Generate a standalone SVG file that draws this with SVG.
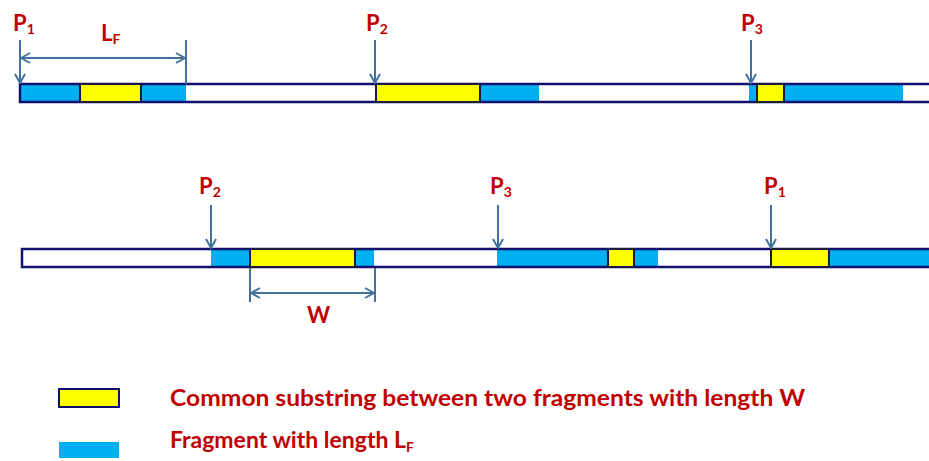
<svg xmlns="http://www.w3.org/2000/svg" width="929" height="461" viewBox="0 0 929 461">
<defs>
<style>
.lbl{font-family:Lato,"Liberation Sans",sans-serif;font-weight:bold;fill:#c00000;}
.p{font-size:22px;}
.sub{font-size:14px;}
.leg{font-size:22px;}
.strand{fill:none;stroke:#10106e;stroke-width:2.5;}
.blue{fill:#00b0f0;}
.yel{fill:#ffff00;stroke:#1a1a40;stroke-width:2;}
.arr{stroke:#41719c;stroke-width:2;fill:none;}
</style>
<marker id="ah" viewBox="0 0 12 12" refX="11" refY="6" markerWidth="12" markerHeight="12" markerUnits="userSpaceOnUse" orient="auto-start-reverse">
<polyline points="2,1 11,6 2,11" fill="none" stroke="#41719c" stroke-width="2"/>
</marker>
</defs>
<rect width="929" height="461" fill="#ffffff"/>

<g id="strand1">
<rect x="20" y="84" width="920" height="18" fill="#ffffff"/>
<rect class="blue" x="20" y="84" width="60" height="18"/>
<rect class="blue" x="141" y="84" width="45" height="18"/>
<rect class="blue" x="480" y="84" width="59" height="18"/>
<rect class="blue" x="749" y="84" width="8" height="18"/>
<rect class="blue" x="784" y="84" width="119" height="18"/>
<rect class="strand" x="20" y="84" width="920" height="18"/>
<rect class="yel" x="80" y="84" width="61" height="18"/>
<rect class="yel" x="376" y="84" width="104" height="18"/>
<rect class="yel" x="757" y="84" width="27" height="18"/>
</g>

<g id="strand2">
<rect x="22" y="249" width="920" height="18" fill="#ffffff"/>
<rect class="blue" x="211" y="249" width="39" height="18"/>
<rect class="blue" x="355" y="249" width="19" height="18"/>
<rect class="blue" x="497" y="249" width="111" height="18"/>
<rect class="blue" x="634" y="249" width="24" height="18"/>
<rect class="blue" x="829" y="249" width="110" height="18"/>
<rect class="strand" x="22" y="249" width="920" height="18"/>
<rect class="yel" x="250" y="249" width="105" height="18"/>
<rect class="yel" x="608" y="249" width="26" height="18"/>
<rect class="yel" x="771" y="249" width="58" height="18"/>
</g>

<g id="connectors">
<line class="arr" x1="20" y1="40" x2="20" y2="83" marker-end="url(#ah)"/>
<line class="arr" x1="375" y1="40" x2="375" y2="83" marker-end="url(#ah)"/>
<line class="arr" x1="751" y1="40" x2="751" y2="83" marker-end="url(#ah)"/>
<line class="arr" x1="186" y1="40" x2="186" y2="84"/>
<line class="arr" x1="21" y1="58" x2="185" y2="58" marker-start="url(#ah)" marker-end="url(#ah)"/>
<line class="arr" x1="211" y1="205" x2="211" y2="248" marker-end="url(#ah)"/>
<line class="arr" x1="498" y1="205" x2="498" y2="248" marker-end="url(#ah)"/>
<line class="arr" x1="771" y1="205" x2="771" y2="248" marker-end="url(#ah)"/>
<line class="arr" x1="250" y1="268" x2="250" y2="302"/>
<line class="arr" x1="375" y1="268" x2="375" y2="302"/>
<line class="arr" x1="251" y1="293" x2="374" y2="293" marker-start="url(#ah)" marker-end="url(#ah)"/>
</g>

<g id="labels">
<text class="lbl p" x="13" y="31">P<tspan class="sub" dy="3">1</tspan></text>
<text class="lbl p" x="101" y="41">L<tspan class="sub" dy="3">F</tspan></text>
<text class="lbl p" x="366" y="31">P<tspan class="sub" dy="3">2</tspan></text>
<text class="lbl p" x="741" y="31">P<tspan class="sub" dy="3">3</tspan></text>
<text class="lbl p" x="199" y="194">P<tspan class="sub" dy="3">2</tspan></text>
<text class="lbl p" x="490" y="194">P<tspan class="sub" dy="3">3</tspan></text>
<text class="lbl p" x="764" y="194">P<tspan class="sub" dy="3">1</tspan></text>
<text class="lbl p" x="307" y="323">W</text>
</g>

<g id="legend">
<rect class="yel" x="59" y="389" width="60" height="18" style="stroke:#10106e"/>
<rect class="blue" x="59" y="442" width="60" height="16"/>
<text class="lbl leg" x="170" y="406" textLength="635" lengthAdjust="spacingAndGlyphs">Common substring between two fragments  with length W</text>
<text class="lbl leg" x="170" y="448"><tspan textLength="236" lengthAdjust="spacingAndGlyphs">Fragment with length L</tspan><tspan class="sub" dy="4">F</tspan></text>
</g>
</svg>
